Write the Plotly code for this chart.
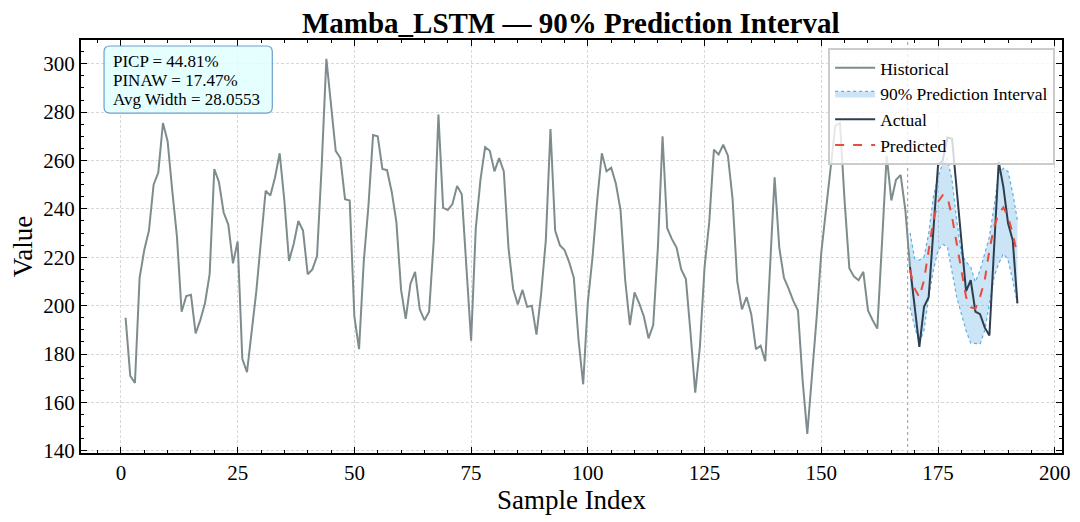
import plotly.graph_objects as go

# historical series, sample index 1..169
hist_idx = list(range(1, 170))
hist_vals = [
    195, 171, 168, 211.5, 223, 231, 250, 255, 275.5, 268,
    247.5, 228.5, 197.5, 204, 204.5, 188.5, 194, 201, 213, 256.5,
    251, 238.5, 233.5, 217.5, 226.5, 178, 172.5, 190, 206, 227,
    247.5, 245.5, 253, 263, 243.5, 218.5, 225.5, 235, 231, 213,
    215, 220.5, 258, 302, 282, 264, 261, 244, 243.5, 195.5,
    182, 218, 241, 270.5, 270, 256.5, 256, 247, 234.5, 206.5,
    194.5, 209, 214, 198.5, 194, 197.5, 227, 279, 240.5, 239.5,
    242, 249.5, 246, 216, 185.5, 232, 252, 265.5, 264, 255.5,
    261, 255.5, 224, 207, 200.5, 206.5, 199.5, 200, 188, 205,
    227, 273, 231, 225, 223, 218, 211.5, 186, 167.5, 201.5,
    220, 243.5, 263, 255.5, 257, 250.5, 239.5, 210.5, 192, 205.5,
    201, 195.5, 186.5, 192, 224, 270, 232, 227.5, 224, 215,
    211, 188.5, 164, 183, 216, 234.5, 264.5, 262.5, 266.5, 262,
    244, 210, 198.5, 203.5, 196.5, 182, 183.5, 177, 216, 253,
    224, 211.5, 207, 202, 198, 169, 147, 170, 195, 222,
    241, 257, 274.5, 275.5, 243, 215.5, 212, 210.5, 214, 198,
    194, 190.5, 226, 262, 243.5, 252, 254, 239.5, 216,
]

# forecast horizon, sample index 169..192
fc_idx = list(range(169, 193))
actual = [216, 200.5, 183, 199.5, 203.5, 231, 258, 260, 269.5, 269,
          247, 226, 206, 210.5, 197.5, 196.5, 191, 187.7, 223.5, 259.5,
          249, 234, 227, 201]
predicted = [214.6, 207, 203.5, 210.5, 222.9, 235.3, 242.9, 245.7, 245, 236.7,
             225.7, 214.6, 203.6, 199.4, 198.7, 203.6, 210.5, 222.9, 232.6, 238.1,
             240.6, 236.7, 229.8, 220.8]
upper = [230.1, 219.5, 218.8, 220.1, 229.8, 245, 253.3, 258.8, 260.9, 251.9,
         235.3, 221.5, 218.1, 216, 209.8, 214.6, 221.5, 228.4, 240.9, 254.7,
         256.8, 255.4, 246.4, 235.3]
lower = [199.4, 191.1, 184.9, 189.7, 203.6, 214.6, 222.9, 225.4, 224.3, 213.2,
         203.6, 196.6, 189.7, 184.5, 184.2, 184.2, 189.7, 200.8, 211.9, 217.4,
         221.5, 218.8, 210.5, 200.8]

split_x = 168.5
metrics = ["PICP = 44.81%", "PINAW = 17.47%", "Avg Width = 28.0553"]

SERIF = "Liberation Serif, Times New Roman, serif"

fig = go.Figure()

fig.add_trace(go.Scatter(x=hist_idx, y=hist_vals, mode="lines", name="Historical",
                         line=dict(color="#7f8c8d", width=2)))
fig.add_trace(go.Scatter(x=fc_idx, y=lower, mode="lines", showlegend=False,
                         line=dict(color="#5dade2", width=1.2, dash="dot")))
fig.add_trace(go.Scatter(x=fc_idx, y=upper, mode="lines", name="90% Prediction Interval",
                         fill="tonexty", fillcolor="rgba(52,152,219,0.25)",
                         line=dict(color="#5dade2", width=1.2, dash="dot")))
fig.add_trace(go.Scatter(x=fc_idx, y=actual, mode="lines", name="Actual",
                         line=dict(color="#2c3e50", width=2)))
fig.add_trace(go.Scatter(x=fc_idx, y=predicted, mode="lines", name="Predicted",
                         line=dict(color="#e74c3c", width=2, dash="dash")))

# forecast start marker
fig.add_shape(type="line", xref="x", yref="paper", x0=split_x, x1=split_x, y0=0, y1=1,
              line=dict(color="#999999", width=1, dash="dot"), layer="below")

# rounded metrics box
x0, x1, y0, y1 = 0.0235, 0.195, 0.823, 0.9855
rx, ry = 0.006, 0.014
path = (f"M {x0+rx},{y0} L {x1-rx},{y0} Q {x1},{y0} {x1},{y0+ry} "
        f"L {x1},{y1-ry} Q {x1},{y1} {x1-rx},{y1} L {x0+rx},{y1} "
        f"Q {x0},{y1} {x0},{y1-ry} L {x0},{y0+ry} Q {x0},{y0} {x0+rx},{y0} Z")
fig.add_shape(type="path", xref="paper", yref="paper", path=path,
              fillcolor="rgba(224,255,255,0.85)", line=dict(color="#6a9fcf", width=1.2))
# one annotation per line to keep the tight line spacing
for k, line in enumerate(metrics):
    fig.add_annotation(xref="paper", yref="paper", x=0.031, y=0.949 - k * 0.046,
                       xanchor="left", yanchor="middle", text=line, showarrow=False,
                       font=dict(family=SERIF, size=17, color="black"))

axis_common = dict(
    showline=True, linecolor="black", linewidth=2, mirror="allticks",
    ticks="inside", ticklen=6, tickwidth=1.3, tickcolor="black",
    showgrid=True, gridcolor="#d8d8d8", griddash="3px,2px", gridwidth=0.8,
    zeroline=False, automargin=False,
    tickfont=dict(family=SERIF, size=21, color="black"),
)

# the page body adds an 8px offset, margins compensate for it
fig.update_layout(
    width=1080, height=522,
    plot_bgcolor="white", paper_bgcolor="white",
    margin=dict(l=73, r=26, t=32, b=77),
    title=dict(text="<b>Mamba_LSTM — 90% Prediction Interval</b>", x=0.521, xanchor="center",
               y=0.971, yanchor="middle", font=dict(family=SERIF, size=29, color="black")),
    xaxis=dict(range=[-8.55, 201.55], dtick=25, tick0=0,
               minor=dict(ticks="inside", ticklen=3, dtick=5, tickcolor="black", showgrid=False),
               title=dict(text="Sample Index", font=dict(family=SERIF, size=27, color="black"), standoff=3),
               **axis_common),
    yaxis=dict(range=[139.1, 309.8], dtick=20, tick0=0,
               minor=dict(ticks="inside", ticklen=3, dtick=5, tickcolor="black", showgrid=False),
               title=dict(text="Value", font=dict(family=SERIF, size=27, color="black"), standoff=5),
               **axis_common),
    legend=dict(x=0.993, y=0.981, xanchor="right", yanchor="top", traceorder="normal",
                bgcolor="rgba(255,255,255,0.8)", bordercolor="#cccccc", borderwidth=2,
                itemwidth=40,
                font=dict(family=SERIF, size=17.5, color="black"), tracegroupgap=0),
)

fig.write_html("out.html")
